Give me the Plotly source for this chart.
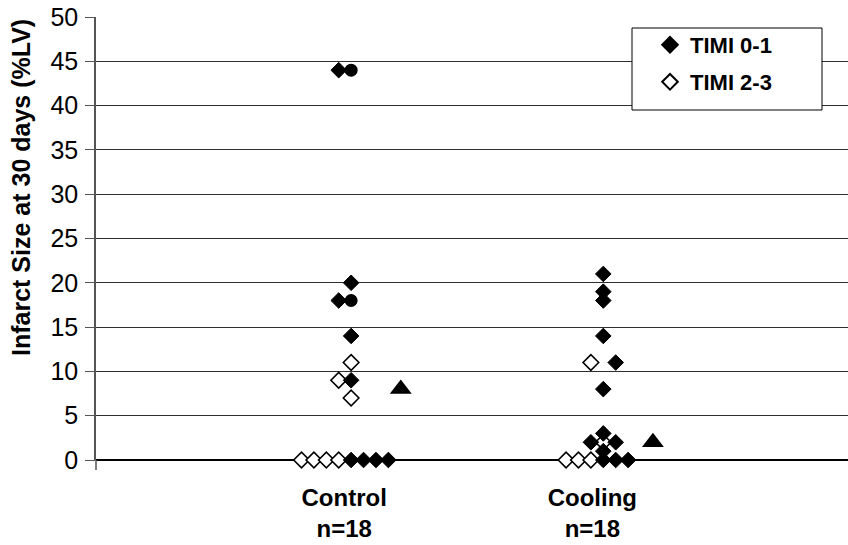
import plotly.graph_objects as go

# ---- data ----
categories = ["Control", "Cooling"]
category_labels = ["<b>Control</b><br><b>n=18</b>", "<b>Cooling</b><br><b>n=18</b>"]
y_ticks = [0, 5, 10, 15, 20, 25, 30, 35, 40, 45, 50]

# Control group
ctrl_timi01 = [44, 20, 18, 14, 9, 0, 0, 0, 0]
ctrl_timi01_slot = [-1, 0, -1, 0, 0, 0, 1, 2, 3]
ctrl_timi23 = [11, 9, 7, 0, 0, 0, 0]
ctrl_timi23_slot = [0, -1, 0, -4, -3, -2, -1]
ctrl_circle = [44, 18]
ctrl_circle_slot = [0, 0]
ctrl_mean = [8]
ctrl_mean_slot = [4]

# Cooling group
cool_timi01 = [21, 19, 18, 14, 11, 8, 3, 2, 2, 1, 0, 0, 0]
cool_timi01_slot = [0, 0, 0, 0, 1, 0, 0, -1, 1, 0, 0, 1, 2]
cool_timi23 = [11, 2, 0, 0, 0]
cool_timi23_slot = [-1, 0, -3, -2, -1]
cool_mean = [2]
cool_mean_slot = [4]

# ---- layout helpers ----
group_center = {"Control": 1.028, "Cooling": 2.044}
STEP = 0.05
FONT = "Liberation Sans, Arial, sans-serif"


def xs(group, slots):
    return [group_center[group] + s * STEP for s in slots]


fig = go.Figure()

# open diamonds (TIMI 2-3) drawn first so filled ones sit on top
fig.add_trace(go.Scatter(
    x=xs("Control", ctrl_timi23_slot) + xs("Cooling", cool_timi23_slot),
    y=ctrl_timi23 + cool_timi23,
    mode="markers", name="<b>TIMI 2-3</b>", legend="legend2",
    marker=dict(symbol="diamond", size=12, color="white",
                line=dict(color="black", width=1.6)),
    cliponaxis=False,
))
fig.add_trace(go.Scatter(
    x=xs("Control", ctrl_timi01_slot) + xs("Cooling", cool_timi01_slot),
    y=ctrl_timi01 + cool_timi01,
    mode="markers", name="<b>TIMI 0-1</b>", legend="legend",
    marker=dict(symbol="diamond", size=12, color="black",
                line=dict(color="black", width=1)),
    cliponaxis=False,
))
fig.add_trace(go.Scatter(
    x=xs("Control", ctrl_circle_slot), y=ctrl_circle,
    mode="markers", showlegend=False,
    marker=dict(symbol="circle", size=13, color="black"),
    cliponaxis=False,
))
fig.add_trace(go.Scatter(
    x=xs("Control", ctrl_mean_slot) + xs("Cooling", cool_mean_slot),
    y=ctrl_mean + cool_mean,
    mode="markers", showlegend=False,
    marker=dict(symbol="triangle-up", size=19, color="black"),
    cliponaxis=False,
))
# empty trace so the overlay axis carrying the visible tick marks is drawn
fig.add_trace(go.Scatter(x=[], y=[], yaxis="y2", showlegend=False, hoverinfo="skip"))

# the page's body margin is removed below, so figure pixels == screenshot pixels
W, H = 848, 545
PL, PR, PT, PB = 96, 848, 17, 460          # plot area in pixels
L, R, T, B = PL, W - PR, PT, H - PB
PW, PH = PR - PL, PB - PT


def px_x(p):
    return (p - PL) / PW


def px_y(p):
    return 1 - (p - PT) / PH


fig.update_layout(
    width=W, height=H,
    margin=dict(l=L, r=R, t=T, b=B, autoexpand=False),
    paper_bgcolor="white", plot_bgcolor="white",
    font=dict(family=FONT, color="black"),
    xaxis=dict(
        range=[0, 3.03], tickmode="array", tickvals=[1, 2], ticktext=category_labels,
        showgrid=False, zeroline=False, showline=False,
        ticks="outside", ticklen=16, tickcolor="rgba(0,0,0,0)",
        tickfont=dict(size=24, family=FONT, color="black"),
        automargin=False, ticklabeloverflow="allow",
    ),
    yaxis=dict(
        range=[0, 50], tickmode="array", tickvals=y_ticks,
        ticktext=[str(v) for v in y_ticks],
        showgrid=True, gridcolor="#2e2e2e", gridwidth=1.2,
        zeroline=True, zerolinecolor="black", zerolinewidth=2,
        showline=True, linecolor="#555555", linewidth=1.5,
        ticks="outside", ticklen=11, tickcolor="rgba(0,0,0,0)",
        tickfont=dict(size=25, family=FONT, color="black"),
        automargin=False, ticklabeloverflow="allow",
    ),
    yaxis2=dict(
        range=[0, 50], overlaying="y", side="left", tickmode="array", tickvals=y_ticks,
        showticklabels=False, showgrid=False, zeroline=False, showline=False,
        ticks="outside", ticklen=10, tickcolor="#555555", tickwidth=1,
        automargin=False,
    ),
    legend=dict(
        x=px_x(650), y=px_y(45), xanchor="left", yanchor="middle",
        bgcolor="rgba(0,0,0,0)", borderwidth=0,
        font=dict(size=22, family=FONT, color="black"),
        itemsizing="constant",
    ),
    legend2=dict(
        x=px_x(650), y=px_y(82), xanchor="left", yanchor="middle",
        bgcolor="rgba(0,0,0,0)", borderwidth=0,
        font=dict(size=22, family=FONT, color="black"),
        itemsizing="constant",
    ),
    shapes=[
        dict(type="rect", xref="paper", yref="paper",
             x0=px_x(632), x1=px_x(822), y0=px_y(110), y1=px_y(28),
             line=dict(color="black", width=1), fillcolor="white", layer="above"),
        dict(type="line", xref="paper", yref="paper",
             x0=0, x1=0, y0=0, y1=-10 / PH,
             line=dict(color="#555555", width=1.5)),
    ],
    annotations=[
        dict(text="<b>Infarct Size at 30 days (%LV)</b>", textangle=-90,
             xref="paper", yref="paper", x=px_x(21), y=px_y(188),
             xanchor="center", yanchor="middle", showarrow=False,
             font=dict(size=25, family=FONT, color="black")),
    ],
)

fig.write_html(
    "out.html",
    config={"displayModeBar": False},
    post_script="document.body.style.margin='0';document.body.style.padding='0';",
)
